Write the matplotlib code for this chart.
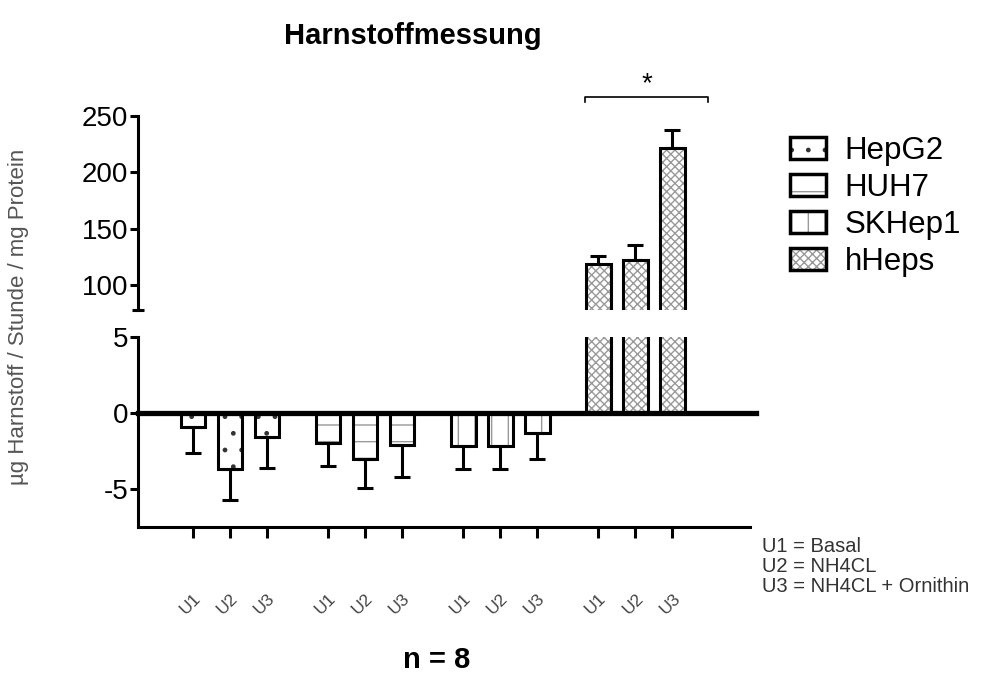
import numpy as np
import matplotlib.pyplot as plt
from matplotlib.patches import Patch
from matplotlib.legend_handler import HandlerTuple

plt.rcParams['font.family'] = ['Liberation Sans', 'DejaVu Sans']
plt.rcParams['hatch.linewidth'] = 1.0
plt.rcParams['axes.unicode_minus'] = False

# data (µg Harnstoff / Stunde / mg Protein)
cell_lines = ['HepG2', 'HUH7', 'SKHep1', 'hHeps']
conditions = ['U1', 'U2', 'U3']
means = {
    'HepG2': [-0.9, -3.7, -1.6],
    'HUH7': [-2.0, -3.0, -2.1],
    'SKHep1': [-2.2, -2.2, -1.3],
    'hHeps': [119, 122, 222],
}
errors = {
    'HepG2': [1.7, 2.0, 2.0],
    'HUH7': [1.5, 1.9, 2.1],
    'SKHep1': [1.5, 1.5, 1.7],
    'hHeps': [7, 14, 16],
}
hatches = {'HepG2': '.', 'HUH7': '-', 'SKHep1': '|', 'hHeps': 'xxxx'}
hatch_colors = {'HepG2': '#333333', 'HUH7': '#999999',
                'SKHep1': '#999999', 'hHeps': '#999999'}
footnote = ['U1 = Basal', 'U2 = NH4CL', 'U3 = NH4CL + Ornithin']

group_gap = 3.65
bar_w = 0.66
lw = 2.2

fig = plt.figure(figsize=(10.02, 6.93), dpi=100)
ax_top = fig.add_axes([0.1377, 0.5527, 0.611, 0.2799])
ax_bot = fig.add_axes([0.1377, 0.2395, 0.611, 0.2742])

xticks = []
handles = []
for g, name in enumerate(cell_lines):
    x = g * group_gap + np.arange(len(conditions))
    xticks.extend(x)
    vals = np.array(means[name], dtype=float)
    errs = np.array(errors[name], dtype=float)
    lower = np.where(vals < 0, errs, 0)
    upper = np.where(vals > 0, errs, 0)
    for ax in (ax_top, ax_bot):
        ax.bar(x, vals, width=bar_w, color='white', edgecolor=hatch_colors[name],
               linewidth=0, hatch=hatches[name], zorder=2)
        ax.bar(x, vals, width=bar_w, fill=False, edgecolor='black',
               linewidth=lw, zorder=3)
        ax.errorbar(x, vals, yerr=[lower, upper], fmt='none', ecolor='black',
                    elinewidth=lw, capsize=5.5, capthick=lw, zorder=4)
    handles.append((Patch(facecolor='white', edgecolor=hatch_colors[name],
                          linewidth=0, hatch=hatches[name]),
                    Patch(fill=False, edgecolor='black', linewidth=2.5)))

xlim = (-1.49, 3 * group_gap + 2 + 2.1)
for ax in (ax_top, ax_bot):
    ax.set_xlim(*xlim)
    ax.spines['right'].set_visible(False)
    ax.spines['top'].set_visible(False)
    ax.spines['left'].set_linewidth(lw)
    ax.spines['bottom'].set_linewidth(lw)
    ax.tick_params(axis='y', width=lw, length=6, labelsize=20, pad=1)

# upper part of the broken axis
ax_top.set_ylim(78, 250)
ax_top.set_yticks([100, 150, 200, 250])
ax_top.set_yticks([78], minor=True)
ax_top.tick_params(axis='y', which='minor', direction='inout', length=9, width=lw)
ax_top.spines['bottom'].set_visible(False)
ax_top.set_xticks([])

# lower part
ax_bot.set_ylim(-7.5, 5)
ax_bot.set_yticks([-5, 0, 5])
ax_bot.axhline(0, color='black', linewidth=3.8, xmax=1.01, clip_on=False, zorder=5)
ax_bot.set_xticks(xticks)
ax_bot.set_xticklabels(conditions * len(cell_lines), rotation=45,
                       ha='right', va='top', rotation_mode='anchor',
                       fontsize=12.5, color='#444444')
ax_bot.tick_params(axis='x', width=lw, length=8, pad=38)

# significance bracket over hHeps
x0, x1 = 3 * group_gap - 0.35, 3 * group_gap + 2.95
ax_top.plot([x0, x0, x1, x1], [262, 267, 267, 262], color='black',
            linewidth=1.2, clip_on=False)
ax_top.text((x0 + x1) / 2, 278, '*', ha='center', va='center', fontsize=20)

fig.text(413 / 1002, 1 - 36 / 693, 'Harnstoffmessung', ha='center',
         va='center', fontsize=21, fontweight='bold')
fig.text(19 / 1002, 1 - 317 / 693, 'µg Harnstoff / Stunde / mg Protein',
         rotation=90, ha='center', va='center', fontsize=16, color='#555555')
fig.text(437 / 1002, 1 - 660 / 693, 'n = 8', ha='center', va='center',
         fontsize=21, fontweight='bold')
for i, line in enumerate(footnote):
    fig.text(762 / 1002, 1 - (547 + 20 * i) / 693, line, ha='left',
             va='center', fontsize=14.5, color='#333333')

fig.legend(handles, cell_lines, handler_map={tuple: HandlerTuple(ndivide=1)},
           loc='upper left', bbox_to_anchor=(790 / 1002, 1 - 136 / 693),
           frameon=False, fontsize=22.5, handlelength=1.15, handleheight=0.7,
           handletextpad=0.6, labelspacing=0.22, borderpad=0, borderaxespad=0)

fig.savefig('out.png', dpi=100)
